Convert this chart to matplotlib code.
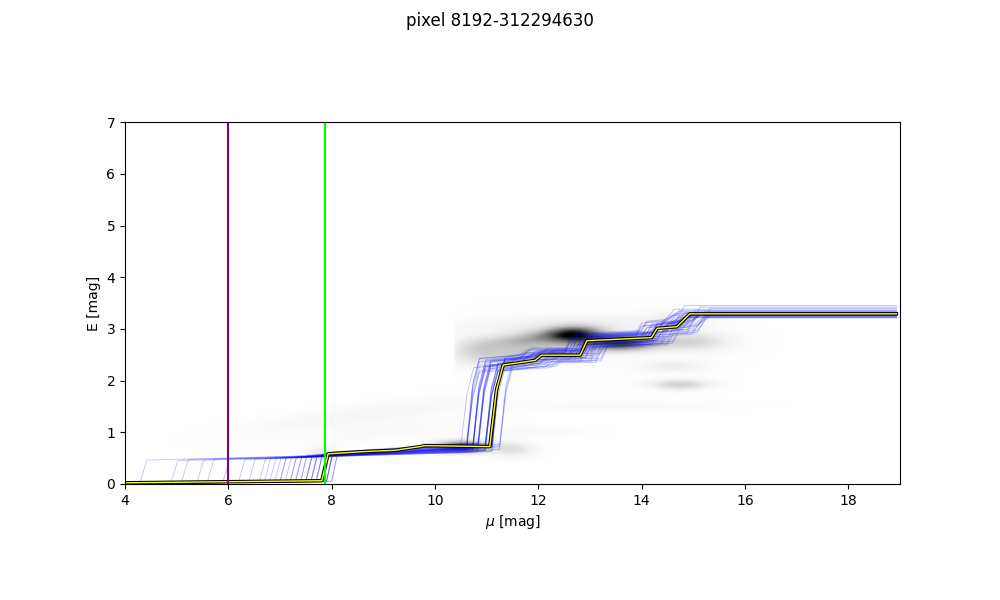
import numpy as np
import matplotlib
matplotlib.use('Agg')
import matplotlib.pyplot as plt


#best fit reddening profile (yellow on black)
best_mu = [4.0, 7.81, 7.93, 8.64, 9.23, 9.71, 9.81, 11.06, 11.19, 11.32,
           11.94, 12.06, 12.81, 12.94, 14.19, 14.30, 14.68, 14.93, 18.93]
best_E = [0.02, 0.06, 0.58, 0.625, 0.65, 0.72, 0.74, 0.72, 1.82, 2.30,
          2.39, 2.49, 2.49, 2.77, 2.83, 3.01, 3.04, 3.29, 3.29]

#samples (blue): first jump, level after it, big jump, offsets in middle, final level
samp_j1 = [7.5, 4.3, 7.8, 6.9, 7.6, 5.1, 7.9, 7.2, 7.7, 6.6, 7.4, 8.0, 5.6, 7.3,
           7.8, 7.0, 7.6, 6.2, 7.9, 7.5, 4.9, 7.7, 7.1, 7.8, 6.8, 7.4, 7.9, 5.9,
           7.6, 7.3, 6.7, 7.9, 7.5, 5.4, 7.2, 7.8, 7.0, 8.0, 6.4, 7.7]
samp_a1 = [0.52, 0.46, 0.58, 0.50, 0.55, 0.47, 0.60, 0.53, 0.57, 0.49, 0.54, 0.61,
           0.48, 0.52, 0.59, 0.51, 0.56, 0.47, 0.58, 0.53, 0.45, 0.57, 0.50, 0.60,
           0.49, 0.55, 0.62, 0.48, 0.54, 0.52, 0.50, 0.59, 0.56, 0.46, 0.51, 0.58,
           0.50, 0.61, 0.48, 0.55]
samp_j2 = [10.97, 10.73, 11.10, 10.61, 10.83, 10.97, 11.10, 10.73, 10.50, 10.83,
           11.10, 10.97, 10.61, 10.73, 11.25, 10.83, 10.97, 11.10, 10.61, 10.73,
           10.83, 11.10, 10.97, 10.61, 10.73, 11.25, 10.83, 10.97, 11.10, 10.61,
           10.73, 10.83, 10.97, 11.10, 10.61, 10.73, 11.25, 10.83, 10.97, 11.10]
samp_d = [0.05, -0.08, 0.12, -0.02, 0.08, -0.12, 0.03, 0.10, -0.05, 0.00,
          0.14, -0.10, 0.06, -0.03, 0.09, -0.07, 0.02, 0.11, -0.14, 0.04,
          -0.01, 0.07, -0.09, 0.13, -0.04, 0.01, 0.10, -0.06, 0.05, -0.11,
          0.08, -0.02, 0.03, -0.08, 0.12, 0.00, -0.05, 0.06, -0.13, 0.09]
samp_s = [0.1, -0.2, 0.3, 0.0, -0.1, 0.2, 0.4, -0.3, 0.1, 0.0,
          -0.2, 0.3, 0.2, -0.1, 0.0, 0.4, -0.2, 0.1, 0.3, -0.3,
          0.2, 0.0, -0.1, 0.1, 0.3, -0.2, 0.0, 0.2, -0.3, 0.4,
          0.1, -0.1, 0.2, 0.0, -0.2, 0.3, 0.1, -0.1, 0.0, 0.2]
samp_ef = [3.28, 3.22, 3.33, 3.26, 3.30, 3.42, 3.25, 3.29, 3.36, 3.27,
           3.31, 3.24, 3.28, 3.45, 3.26, 3.30, 3.23, 3.32, 3.27, 3.38,
           3.29, 3.25, 3.31, 3.28, 3.21, 3.34, 3.27, 3.30, 3.26, 3.40,
           3.29, 3.24, 3.32, 3.28, 3.35, 3.26, 3.30, 3.22, 3.29, 3.27]

#density blobs: mu, E, width in mu, width in E, slope, amplitude
blob_mu = [10.5, 12.0, 12.7, 13.6, 11.9, 10.8, 12.0, 15.0, 14.75, 14.6,
           13.5, 11.8, 8.6, 11.5, 7.8, 14.7, 12.6, 9.0]
blob_E = [0.70, 2.82, 2.88, 2.72, 2.52, 2.60, 3.10, 2.75, 1.91, 2.27,
          1.50, 1.00, 1.32, 0.65, 0.55, 3.15, 2.70, 1.00]
blob_smu = [0.35, 0.90, 0.35, 0.50, 0.90, 0.30, 1.20, 0.50, 0.40, 0.40,
            1.50, 0.80, 1.60, 0.30, 0.20, 0.45, 2.00, 1.20]
blob_sE = [0.08, 0.12, 0.10, 0.10, 0.12, 0.20, 0.10, 0.13, 0.07, 0.08,
           0.07, 0.08, 0.14, 0.10, 0.10, 0.12, 0.45, 0.12]
blob_slope = [0.0, 0.12, 0.0, 0.0, 0.08, 0.0, 0.05, 0.0, 0.0, 0.0,
              0.0, 0.0, 0.12, 0.0, 0.0, 0.0, 0.0, 0.10]
blob_amp = [0.80, 0.40, 0.70, 0.75, 0.28, 0.10, 0.08, 0.25, 0.30, 0.14,
            0.05, 0.05, 0.07, 0.22, 0.18, 0.15, 0.03, 0.04]

#limits where the density was cut
cut_mu = 10.4
cut_E = 1.88

purple_mu = 6.0
green_mu = 7.87


#building the density image
mu_grid = np.linspace(4, 19, 301)
E_grid = np.linspace(0, 7, 141)
MU, EE = np.meshgrid(mu_grid, E_grid)
dens = np.zeros_like(MU)
for i in range(len(blob_mu)):
  centre = blob_E[i] + blob_slope[i] * (MU - blob_mu[i])
  dens += blob_amp[i] * np.exp(-0.5 * ((MU - blob_mu[i]) / blob_smu[i])**2
                               - 0.5 * ((EE - centre) / blob_sE[i])**2)
dens[(MU < cut_mu) & (EE > cut_E)] = 0


fig = plt.figure(figsize=(10, 6))
ax = fig.add_subplot(111)
ax.imshow(dens, origin='lower', extent=[4, 19, 0, 7], cmap='Greys',
          vmin=0, vmax=1, interpolation='bilinear')

#sample curves
for i in range(len(samp_j1)):
  s = samp_s[i]
  d = samp_d[i]
  xs = [4.0, samp_j1[i], samp_j1[i] + 0.12, samp_j2[i] - 0.4, samp_j2[i],
        samp_j2[i] + 0.12, samp_j2[i] + 0.25]
  ys = [0.0, 0.05, samp_a1[i], samp_a1[i] + 0.15, samp_a1[i] + 0.17,
        1.8 + d, 2.30 + d]
  for k in range(10, 17):
    xs.append(max(best_mu[k] + s, xs[-1] + 0.05))
    ys.append(best_E[k] + d)
  xs.append(xs[-1] + 0.25)
  ys.append(samp_ef[i])
  xs.append(18.93)
  ys.append(samp_ef[i])
  ax.plot(xs, ys, color='b', lw=0.7, alpha=0.22)

ax.plot(best_mu, best_E, color='k', lw=2.5)
ax.plot(best_mu, best_E, color='yellow', lw=1)

ax.axvline(purple_mu, color='purple', lw=1.5)
ax.axvline(green_mu, color='lime', lw=1.5)

ax.set_xlim(4, 19)
ax.set_ylim(0, 7)
ax.set_xlabel(r'$\mu$ [mag]')
ax.set_ylabel('E [mag]')
fig.suptitle('pixel 8192-312294630')

plt.savefig('out.png', dpi=100)
